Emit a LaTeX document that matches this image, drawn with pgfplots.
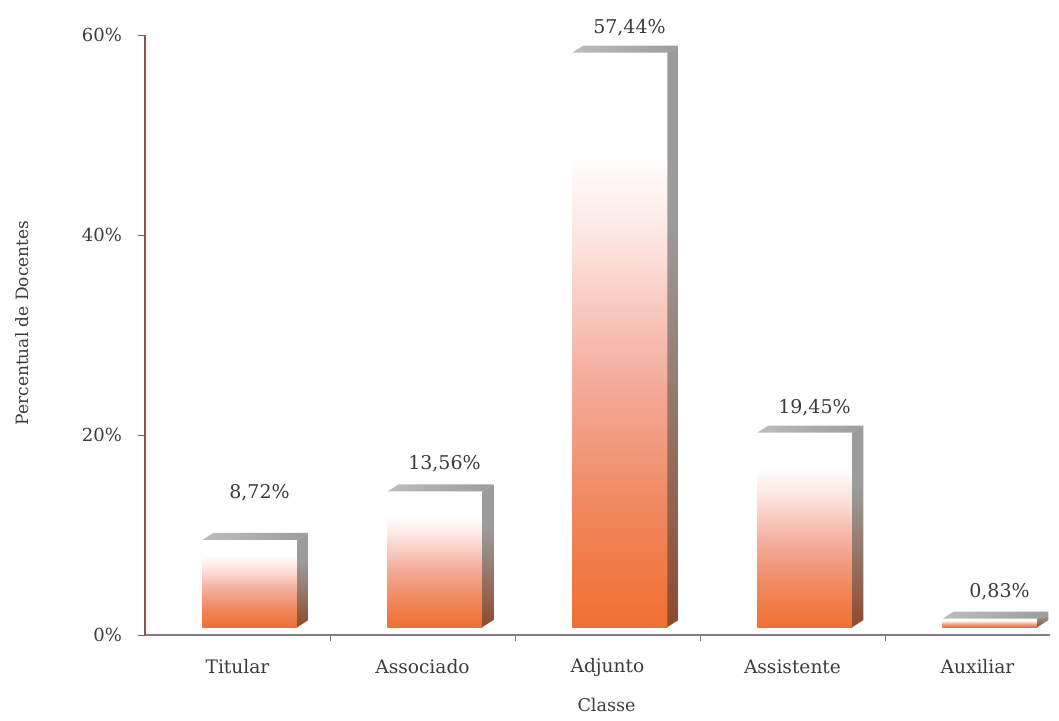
\documentclass[border=0pt]{standalone}
\usepackage{pgfplots}
\pgfplotsset{compat=1.18}
\usepackage{pgfplotstable}
\usepackage{fontspec}
\setmainfont{DejaVu Serif}
\definecolor{barorange}{HTML}{F07030}
\definecolor{barmid1}{HTML}{F08A62}
\definecolor{barmid2}{HTML}{F4AE9E}
\definecolor{barlight}{HTML}{FCE2DC}
\definecolor{sidebot}{HTML}{8E4A2E}
\definecolor{sidetop}{HTML}{9C9C9C}
\definecolor{toplight}{HTML}{BDBDBD}
\definecolor{topdark}{HTML}{9C9C9C}
\definecolor{axisred}{HTML}{8E5252}
\definecolor{axisgray}{HTML}{857985}
\definecolor{txt}{HTML}{3C3C3C}
\pgfdeclareverticalshading{frontshade}{100bp}{color(0bp)=(barorange); color(25bp)=(barorange); color(36bp)=(barmid1); color(47bp)=(barmid2); color(58bp)=(barlight); color(66bp)=(white); color(100bp)=(white)}
\pgfdeclareverticalshading{sideshade}{100bp}{color(0bp)=(sidebot); color(25bp)=(sidebot); color(60bp)=(sidetop); color(100bp)=(sidetop)}
\pgfdeclarehorizontalshading{topshade}{100bp}{color(0bp)=(toplight); color(25bp)=(toplight); color(75bp)=(topdark); color(100bp)=(topdark)}
% 3D bar drawn at each data point (origin = category centre, value height); 5pt per 1%
\pgfdeclareplotmark{bar3d}{%
  \pgfmathsetmacro{\hh}{\val*5}%
  \begin{pgfscope}%
    \pgfpathrectanglecorners{\pgfpoint{-17.5pt}{4pt-\hh pt}}{\pgfpoint{30pt}{4pt}}%
    \pgfshadepath{frontshade}{0}%
    \pgfusepath{discard}%
  \end{pgfscope}%
  \begin{pgfscope}%
    \pgfpathmoveto{\pgfpoint{-17.5pt}{4pt}}%
    \pgfpathlineto{\pgfpoint{30pt}{4pt}}%
    \pgfpathlineto{\pgfpoint{35.5pt}{7.5pt}}%
    \pgfpathlineto{\pgfpoint{-12pt}{7.5pt}}%
    \pgfpathclose
    \pgfshadepath{topshade}{0}%
    \pgfusepath{discard}%
  \end{pgfscope}%
  \begin{pgfscope}%
    \pgfpathmoveto{\pgfpoint{30pt}{4pt}}%
    \pgfpathlineto{\pgfpoint{35.5pt}{7.5pt}}%
    \pgfpathlineto{\pgfpoint{35.5pt}{7.5pt-\hh pt}}%
    \pgfpathlineto{\pgfpoint{30pt}{4pt-\hh pt}}%
    \pgfpathclose
    \pgfshadepath{sideshade}{0}%
    \pgfusepath{discard}%
  \end{pgfscope}%
}
\pgfplotstableread{
cat v off
0 8.72 27.5
1 13.56 18
2 57.44 16.3
3 19.45 16.5
4 0.83 17.5
}\datatab
\begin{document}
\begin{tikzpicture}
\begin{axis}[
  scale only axis,
  width=452.5pt, height=300pt,
  xmin=-0.5, xmax=4.392,
  ymin=0, ymax=60,
  clip=false,
  axis lines*=left,
  x axis line style={draw=axisgray, line width=0.6pt},
  y axis line style={draw=axisred, line width=0.6pt},
  xtick={0,1,2,3,4},
  xticklabels={Titular,Associado,Adjunto,Assistente,Auxiliar},
  major x tick style={draw=none},
  minor xtick={0.5,1.5,2.5,3.5},
  minor x tick style={draw=axisgray},
  minor tick length=3pt,
  major tick length=3.5pt,
  tick align=outside,
  ytick={0,20,40,60},
  ytick style={draw=axisred},
  yticklabel={\pgfmathprintnumber{\tick}\%},
  /pgf/number format/assume math mode=true,
  xticklabel style={font=\fontsize{9.3}{11}\selectfont, text=txt, anchor=center, yshift=-12.5pt},
  yticklabel style={font=\fontsize{9}{11}\selectfont, text=txt, xshift=-4.5pt},
  every axis x label/.style={at={(axis description cs:0.51,0)}, anchor=center, yshift=-35pt, font=\fontsize{8.8}{11}\selectfont, text=txt},
  every axis y label/.style={at={(axis description cs:-0.1359,0.52)}, rotate=90, anchor=center, font=\fontsize{8.5}{11}\selectfont, text=txt},
  xlabel={Classe},
  ylabel={Percentual de Docentes},
]
\coordinate (O) at (rel axis cs:0,0);
\addplot[only marks, mark=bar3d,
  point meta=y,
  visualization depends on={\thisrow{v} \as \val},
  visualization depends on={\thisrow{off} \as \off},
  nodes near coords={\pgfmathprintnumber[fixed,fixed zerofill,precision=2,use comma]{\pgfplotspointmeta}\%},
  every node near coord/.append style={anchor=center, xshift=11pt, yshift=\off pt, font=\fontsize{9.5}{11}\selectfont, text=txt},
] table[x=cat,y=v]{\datatab};
\end{axis}
\pgfresetboundingbox
\path[use as bounding box] ([shift={(-72.5pt,-42.5pt)}]O) rectangle ++(529.5pt,360pt);
\end{tikzpicture}
\end{document}
